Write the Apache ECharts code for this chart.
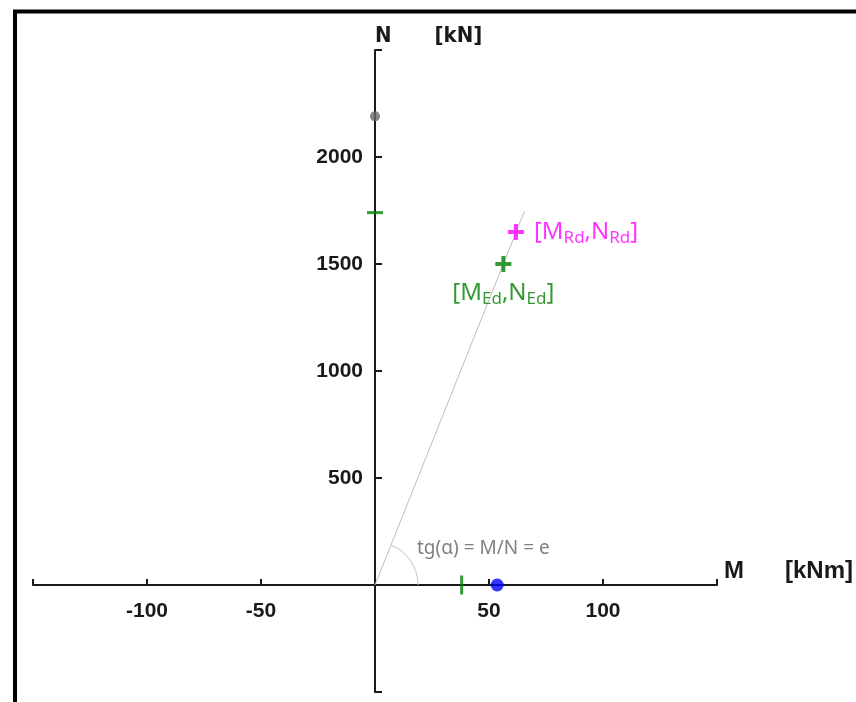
<!DOCTYPE html>
<html>
<head>
<meta charset="utf-8">
<script src="https://cdn.jsdelivr.net/npm/echarts@6/dist/echarts.min.js"></script>
<style>
html,body{margin:0;padding:0;background:#fff;}
#chart{width:856px;height:702px;}
</style>
</head>
<body>
<div id="chart"></div>
<script>
// ---- data ----
const xRange = [-150, 150];
const yRange = [-500, 2500];
const xStep = 50;
const yStep = 500;
const xLabeled = [-100, -50, 50, 100];
const yLabeled = [500, 1000, 1500, 2000];
const eccLine = [[0, 0], [65.5, 1745]];
const pointEd = [56.3, 1500];
const pointRd = [61.8, 1650];
const pointNmax = [0, 2190];
const pointM0 = [53.6, 0];
const markN = [0, 1740];
const markM = [38, 0];

// ---- layout ----
const W = 856, H = 702;
const G = { left: 33, right: 139, top: 50, bottom: 10 };
const gw = W - G.left - G.right, gh = H - G.top - G.bottom;
// axes cross at the origin
const xAxisOffset = -((0 - yRange[0]) / (yRange[1] - yRange[0])) * gh;
const yAxisOffset = -((0 - xRange[0]) / (xRange[1] - xRange[0])) * gw;

const plusPath = 'path://M6,0H10V6H16V10H10V16H6V10H0V6H6Z';
const axisColor = '#1a1a1a';
const boldFont = 'Liberation Sans';
const narrowFont = '"DejaVu Sans Condensed", "Liberation Sans"';
const textFont = 'Noto Sans';
const green = '#007f00';
const magenta = '#ff00ff';

const chart = echarts.init(document.getElementById('chart'));
const option = {
  animation: false,
  backgroundColor: '#fff',
  grid: { left: G.left, right: G.right, top: G.top, bottom: G.bottom, containLabel: false, outerBoundsMode: 'none' },
  xAxis: {
    type: 'value', min: xRange[0], max: xRange[1], interval: xStep,
    position: 'bottom', offset: xAxisOffset,
    axisLine: { onZero: false, lineStyle: { color: axisColor, width: 2 } },
    axisTick: { inside: true, length: 6, lineStyle: { color: axisColor, width: 2 } },
    axisLabel: {
      margin: 16, color: axisColor, fontFamily: boldFont, fontWeight: 'bold', fontSize: 21,
      formatter: v => xLabeled.includes(v) ? String(v) : ''
    },
    splitLine: { show: false },
    name: '{a|M}{b|[kNm]}', nameLocation: 'end', nameGap: 7,
    nameTextStyle: {
      align: 'left', verticalAlign: 'bottom', lineHeight: 28,
      rich: {
        a: { fontFamily: boldFont, fontWeight: 'bold', fontSize: 24, color: axisColor, lineHeight: 28 },
        b: { fontFamily: boldFont, fontWeight: 'bold', fontSize: 24, color: axisColor, lineHeight: 28, padding: [0, 0, 0, 41] }
      }
    }
  },
  yAxis: {
    type: 'value', min: yRange[0], max: yRange[1], interval: yStep,
    position: 'left', offset: yAxisOffset,
    axisLine: { onZero: false, lineStyle: { color: axisColor, width: 2 } },
    axisTick: { inside: true, length: 7, lineStyle: { color: axisColor, width: 2 } },
    axisLabel: {
      margin: 12, color: axisColor, fontFamily: boldFont, fontWeight: 'bold', fontSize: 21,
      formatter: v => yLabeled.includes(v) ? String(v) : ''
    },
    splitLine: { show: false },
    name: '{a|N}{b|[kN]}', nameLocation: 'end', nameGap: 14,
    nameTextStyle: {
      align: 'left', verticalAlign: 'middle',
      rich: {
        a: { fontFamily: narrowFont, fontWeight: 'bold', fontSize: 22, color: axisColor },
        b: { fontFamily: narrowFont, fontWeight: 'bold', fontSize: 22, color: axisColor, padding: [0, 0, 0, 43] }
      }
    }
  },
  graphic: [
    { type: 'line', shape: { x1: 13, y1: 11.5, x2: W, y2: 11.5 }, style: { stroke: '#000', lineWidth: 4 } },
    { type: 'line', shape: { x1: 15, y1: 10, x2: 15, y2: H }, style: { stroke: '#000', lineWidth: 4 } }
  ],
  series: [
    {
      type: 'line', data: eccLine, symbol: 'none',
      lineStyle: { color: '#bdbdbd', width: 1 }, z: 1
    },
    {
      type: 'custom', data: [[0, 0]], z: 1,
      renderItem: function (params, api) {
        const o = api.coord([0, 0]);
        const p = api.coord(eccLine[1]);
        const ang = Math.atan2(p[1] - o[1], p[0] - o[0]);
        return {
          type: 'group',
          children: [
            { type: 'arc', shape: { cx: o[0], cy: o[1], r: 43, startAngle: ang, endAngle: 0, clockwise: true },
              style: { stroke: '#c4c4c4', fill: null, lineWidth: 1 } },
            { type: 'text', x: o[0] + 42, y: o[1] - 36,
              style: { text: 'tg(α) = M/N = e', fill: '#808080', font: '19px "Noto Sans"', verticalAlign: 'middle', align: 'left' } }
          ]
        };
      }
    },
    {
      type: 'scatter', data: [markN], symbol: 'rect', symbolSize: [16, 3],
      itemStyle: { color: green }, z: 5
    },
    {
      type: 'scatter', data: [markM], symbol: 'rect', symbolSize: [3, 19],
      itemStyle: { color: green }, z: 5
    },
    {
      type: 'scatter', data: [pointNmax], symbol: 'circle', symbolSize: 10,
      itemStyle: { color: '#666' }, z: 5
    },
    {
      type: 'scatter', data: [pointM0], symbol: 'circle', symbolSize: 13,
      itemStyle: { color: '#0000ff' }, z: 5
    },
    {
      type: 'scatter', data: [pointEd], symbol: plusPath, symbolSize: 16,
      itemStyle: { color: green }, z: 6,
      label: {
        show: true, position: 'bottom', distance: 6,
        formatter: '{m|[M}{s|Ed}{m|,N}{s|Ed}{m|]}',
        rich: {
          m: { fontFamily: textFont, fontSize: 24, color: green, lineHeight: 30 },
          s: { fontFamily: textFont, fontSize: 17, color: green, lineHeight: 17, verticalAlign: 'bottom' }
        }
      }
    },
    {
      type: 'scatter', data: [pointRd], symbol: plusPath, symbolSize: 16,
      itemStyle: { color: magenta }, z: 6,
      label: {
        show: true, position: 'right', distance: 10,
        formatter: '{m|[M}{s|Rd}{m|,N}{s|Rd}{m|]}',
        rich: {
          m: { fontFamily: textFont, fontSize: 24, color: magenta, lineHeight: 30 },
          s: { fontFamily: textFont, fontSize: 17, color: magenta, lineHeight: 17, verticalAlign: 'bottom' }
        }
      }
    }
  ]
};
chart.setOption(option);
</script>
</body>
</html>
